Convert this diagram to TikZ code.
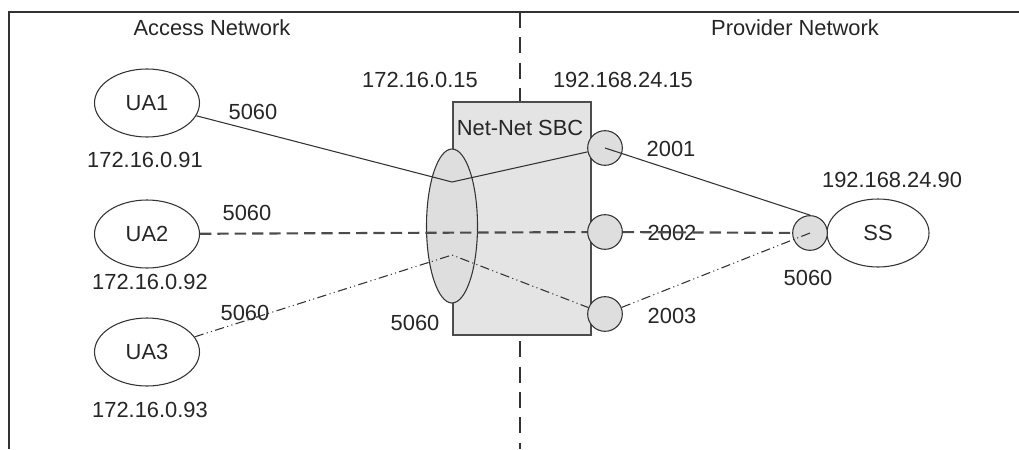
\documentclass[tikz,border=0pt]{standalone}
\usepackage{fontspec}
\setmainfont{Liberation Sans}
\usetikzlibrary{shapes.geometric}
\definecolor{ln}{HTML}{333333}
\definecolor{boxfill}{HTML}{E4E4E4}
\definecolor{portfill}{HTML}{DEDEDE}
\begin{document}
\begin{tikzpicture}[x=0.75pt,y=-0.75pt,
  every node/.style={font=\fontsize{16.4}{18}\selectfont, text=black!85},
  uanode/.style={draw=ln, ellipse, line width=0.8pt, minimum width=78.75pt, minimum height=51pt, inner sep=0pt, fill=white},
  portnode/.style={draw=ln, circle, line width=0.8pt, minimum size=26pt, inner sep=0pt, fill=portfill},
  lbl/.style={inner sep=0pt},
  solidline/.style={draw=ln, line width=0.8pt},
  dashline/.style={draw=black!70, line width=1.6pt, dash pattern=on 8.5pt off 4.5pt},
  ddline/.style={draw=ln, line width=0.8pt, dash pattern=on 7pt off 2.5pt on 0.8pt off 2.5pt on 0.8pt off 2.5pt},
  divline/.style={draw=ln, line width=0.8pt, dash pattern=on 12pt off 7pt}]
\useasboundingbox (0,0) rectangle (1019,449);
\fill[white] (0,0) rectangle (1019,449);
% frame
\draw[draw=ln, line width=0.9pt] (9,449) -- (9,12) -- (1019,12);
% divider
\coordinate (dtop) at (520,12);
\coordinate (dbot) at (520,449);
\draw[divline] (dtop) -- (dbot);
% titles
\node[lbl] (tacc) at (212,28) {Access Network};
\node[lbl] (tprov) at (795,28) {Provider Network};
% SBC box
\node[draw=black!70, fill=boxfill, line width=0.9pt, minimum width=103.5pt, minimum height=174.75pt, inner sep=0pt] (sbc) at (522,218.5) {};
\node[lbl] (sbct) at (520,128) {Net-Net SBC};
% big ellipse
\node[draw=ln, ellipse, fill=portfill, line width=0.8pt, minimum width=38.25pt, minimum height=115.5pt, inner sep=0pt] (big) at (452,226) {};
% UAs
\node[uanode] (ua1) at (147,103) {UA1};
\node[uanode] (ua2) at (147,234) {UA2};
\node[uanode] (ua3) at (147,352) {UA3};
\node[lbl] (ip1) at (145,160) {172.16.0.91};
\node[lbl] (ip2) at (150,282) {172.16.0.92};
\node[lbl] (ip3) at (150,410) {172.16.0.93};
% ports
\node[portnode] (p1) at (605,148) {};
\node[portnode] (p2) at (605,232) {};
\node[portnode] (p3) at (605,314) {};
\node[uanode, minimum width=76.5pt] (ss) at (878,233) {SS};
\node[portnode] (ssp) at (810,233) {};
% labels
\node[lbl] (l1) at (253,112) {5060};
\node[lbl] (l2) at (247,213) {5060};
\node[lbl] (l3) at (245,313) {5060};
\node[lbl] (l4) at (415,323) {5060};
\node[lbl] (l5) at (808,278) {5060};
\node[lbl] (ipa) at (420,80) {172.16.0.15};
\node[lbl] (ipb) at (623,80) {192.168.24.15};
\node[lbl] (ipss) at (892,180) {192.168.24.90};
\node[lbl] (n1) at (671,149) {2001};
\node[lbl] (n2) at (672,233) {2002};
\node[lbl] (n3) at (672,316) {2003};
% connectors
\coordinate (v1) at (452,182);
\coordinate (v3) at (452,255);
\draw[solidline] (ua1) -- (v1) -- (p1);
\draw[solidline] (p1.center) -- (ssp.north);
\draw[dashline] (ua2) -- (p2);
\draw[dashline] (p2) -- (ssp);
\draw[ddline] (ua3) -- (v3) -- (p3);
\draw[ddline] (p3) -- (ssp.center);
\end{tikzpicture}
\end{document}
